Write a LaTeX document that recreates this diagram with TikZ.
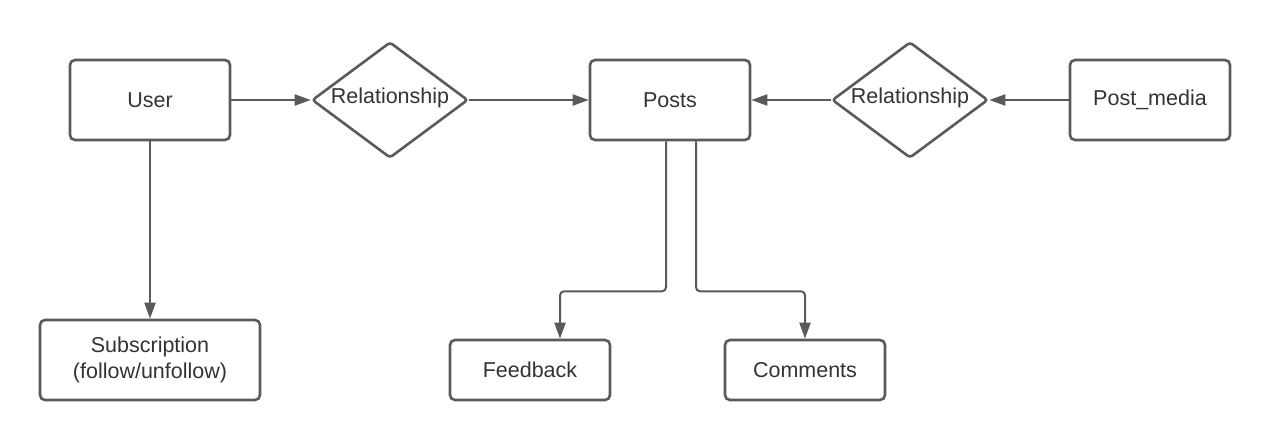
\documentclass[tikz,border=0pt]{standalone}
\usepackage{fontspec}
\setmainfont{Liberation Sans}
\usetikzlibrary{shapes.geometric,arrows.meta}
\definecolor{linegray}{HTML}{5A5A5A}
\definecolor{textgray}{HTML}{333333}
\tikzset{
  entity/.style={draw=linegray, line width=2.6pt, rounded corners=5pt, fill=white,
    minimum width=160pt, minimum height=80pt, inner sep=0pt, text=textgray,
    font=\fontsize{21.5}{26}\selectfont, align=center},
  rel/.style={diamond, draw=linegray, line width=2.6pt, rounded corners=3pt,
    minimum width=156pt, minimum height=116pt, inner sep=0pt},
  reltext/.style={text=textgray, font=\fontsize{21.5}{26}\selectfont},
  conn/.style={draw=linegray, line width=2pt, rounded corners=4pt,
    -{Triangle[length=16pt,width=11pt]}}
}
\begin{document}
\begin{tikzpicture}[x=1pt,y=-1pt]
\useasboundingbox (0,0) rectangle (1270,440);
\node[entity] (user) at (150,100) {User};
\node[rel] (r1) at (390,100) {};
\node[reltext] (r1t) at (390,98) {Relationship};
\node[entity] (posts) at (670,100) {Posts};
\node[rel] (r2) at (910,100) {};
\node[reltext] (r2t) at (910,98) {Relationship};
\node[entity] (media) at (1150,100) {Post\_media};
\node[entity, minimum width=220pt] (sub) at (150,360) {Subscription\\(follow/unfollow)};
\node[entity, minimum height=60pt] (fb) at (530,370) {Feedback};
\node[entity, minimum height=60pt] (cm) at (805,370) {Comments};

\draw[conn] (user.east) -- (r1.west);
\draw[conn] (r1.east) -- (posts.west);
\draw[conn] (media.west) -- (r2.east);
\draw[conn] (r2.west) -- (posts.east);
\draw[conn] (user.south) -- (sub.north);
\draw[conn] ([xshift=-4]posts.south) -- ++(0,150) -| ([xshift=30]fb.north);
\draw[conn] ([xshift=26]posts.south) -- ++(0,150) -| (cm.north);
\end{tikzpicture}
\end{document}
